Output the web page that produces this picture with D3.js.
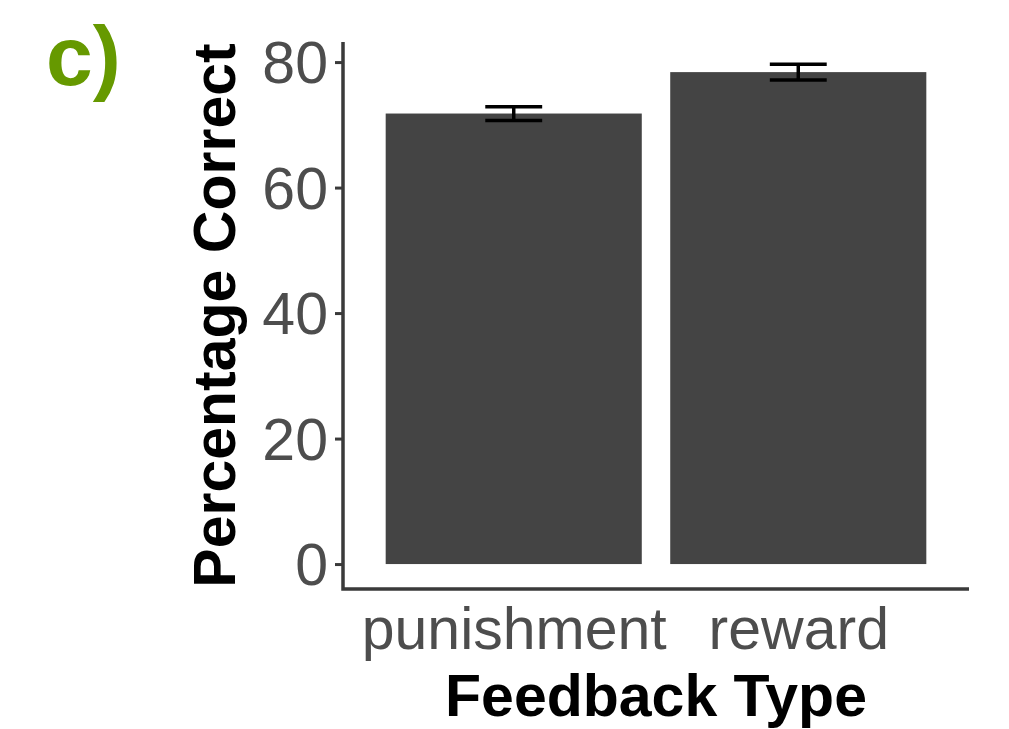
<!DOCTYPE html>
<html>
<head>
<meta charset="utf-8">
<script src="https://cdn.jsdelivr.net/npm/d3@7"></script>
<style>
  html, body { margin: 0; padding: 0; background: #fff; }
  svg { display: block; }
</style>
</head>
<body>
<svg id="chart" width="1009" height="729"></svg>
<script>
// Feedback conditions and their mean accuracy (%) with standard errors
const categories = ["punishment", "reward"];
const means = [71.8, 78.4];
const errors = [1.1, 1.25];
const yTicks = [0, 20, 40, 60, 80];

const svg = d3.select("#chart");
const font = "'Liberation Sans', Arial, sans-serif";

// Panel extent
const panel = { left: 343, right: 969, top: 42, bottom: 589 };

// Discrete x scale with ggplot-style 0.6 unit padding on each side
const unit = (panel.right - panel.left) / 2.2;
const x = d3.scalePoint().domain(categories)
  .range([panel.left + 0.6 * unit, panel.right - 0.6 * unit]);
const barW = 0.9 * unit;
const capW = 0.2 * unit;

const y = d3.scaleLinear().domain([-3.975, 83.2]).range([panel.bottom, panel.top]);

const data = categories.map((c, i) => ({ c, m: means[i], e: errors[i] }));

// Bars
svg.append("g").selectAll("rect").data(data).join("rect")
  .attr("x", d => x(d.c) - barW / 2)
  .attr("width", barW)
  .attr("y", d => y(d.m))
  .attr("height", d => y(0) - y(d.m))
  .attr("fill", "#444444");

// Error bars
const eb = svg.append("g").attr("stroke", "#000").attr("stroke-width", 3.5).attr("fill", "none");
data.forEach(d => {
  const cx = x(d.c);
  eb.append("line").attr("x1", cx).attr("x2", cx).attr("y1", y(d.m + d.e)).attr("y2", y(d.m - d.e));
  eb.append("line").attr("x1", cx - capW / 2).attr("x2", cx + capW / 2).attr("y1", y(d.m + d.e)).attr("y2", y(d.m + d.e));
  eb.append("line").attr("x1", cx - capW / 2).attr("x2", cx + capW / 2).attr("y1", y(d.m - d.e)).attr("y2", y(d.m - d.e));
});

// Y axis
const yAxis = svg.append("g").attr("transform", `translate(${panel.left},0)`)
  .call(d3.axisLeft(y).tickValues(yTicks).tickSize(8).tickPadding(7).tickSizeOuter(0));
yAxis.select(".domain").remove();
yAxis.selectAll(".tick line").attr("stroke", "#3a3a3a").attr("stroke-width", 3);
yAxis.selectAll(".tick text")
  .attr("font-family", font).attr("font-size", 59).attr("fill", "#4d4d4d").attr("dy", "0.35em");

// X axis
const xAxis = svg.append("g").attr("transform", `translate(0,${panel.bottom})`)
  .call(d3.axisBottom(x).tickSize(0).tickPadding(18).tickSizeOuter(0));
xAxis.select(".domain").remove();
xAxis.selectAll(".tick text")
  .attr("font-family", font).attr("font-size", 59).attr("fill", "#4d4d4d").attr("dy", "0.71em");

// Axis lines (L-shaped)
svg.append("path")
  .attr("d", `M${panel.left},${panel.top}V${panel.bottom}H${panel.right}`)
  .attr("fill", "none").attr("stroke", "#3a3a3a").attr("stroke-width", 3.5);

// Axis titles
svg.append("text")
  .attr("x", (panel.left + panel.right) / 2).attr("y", 716)
  .attr("text-anchor", "middle")
  .attr("font-family", font).attr("font-weight", "bold").attr("font-size", 59).attr("fill", "#000")
  .text("Feedback Type");

svg.append("text")
  .attr("transform", `translate(235,${(panel.top + panel.bottom) / 2}) rotate(-90)`)
  .attr("text-anchor", "middle")
  .attr("font-family", font).attr("font-weight", "bold").attr("font-size", 59).attr("fill", "#000")
  .text("Percentage Correct");

// Panel tag
svg.append("text")
  .attr("x", 46).attr("y", 85)
  .attr("font-family", font).attr("font-weight", "bold").attr("font-size", 84).attr("fill", "#669900")
  .text("c)");
</script>
</body>
</html>
